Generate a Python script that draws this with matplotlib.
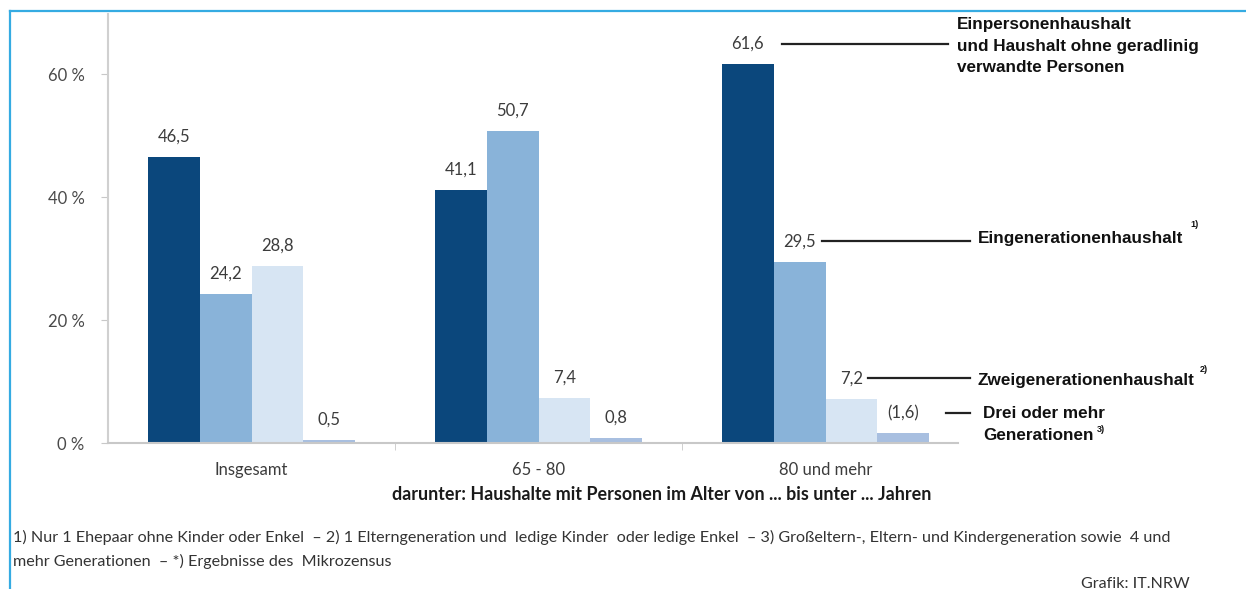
import matplotlib
matplotlib.use("Agg")
import matplotlib.pyplot as plt
from matplotlib.lines import Line2D
import matplotlib.transforms as mtransforms
import numpy as np

# ---- data ----
categories = ["Insgesamt", "65 - 80", "80 und mehr"]
series_names = [
    "Einpersonenhaushalt und Haushalt ohne geradlinig verwandte Personen",
    "Eingenerationenhaushalt",
    "Zweigenerationenhaushalt",
    "Drei oder mehr Generationen",
]
einperson = [46.5, 41.1, 61.6]
eingeneration = [24.2, 50.7, 29.5]
zweigeneration = [28.8, 7.4, 7.2]
drei_mehr = [0.5, 0.8, 1.6]
value_labels = [
    ["46,5", "41,1", "61,6"],
    ["24,2", "50,7", "29,5"],
    ["28,8", "7,4", "7,2"],
    ["0,5", "0,8", "(1,6)"],
]
yticks = [0, 20, 40, 60]
ytick_labels = ["0 %", "20 %", "40 %", "60 %"]
xlabel = "darunter: Haushalte mit Personen im Alter von ... bis unter ... Jahren"
footnote1 = ("1) Nur 1 Ehepaar ohne Kinder oder Enkel  – 2) 1 Elterngeneration und  ledige Kinder  oder ledige Enkel  "
             "– 3) Großeltern-, Eltern- und Kindergeneration sowie  4 und")
footnote2 = "mehr Generationen  – *) Ergebnisse des  Mikrozensus"
source = "Grafik: IT.NRW"

colors = ["#0b477c", "#89b3d9", "#d7e5f3", "#a8bfe0"]
series = [einperson, eingeneration, zweigeneration, drei_mehr]

W, H = 1246, 589
fig = plt.figure(figsize=(W / 100, H / 100), dpi=100)
fig.patch.set_facecolor("white")

def fx(x):
    return x / W

def fy(y):
    return 1 - y / H

# axes in pixel positions
left, right, top, bottom = 108, 969, 14, 443
ax = fig.add_axes([fx(left), fy(bottom), fx(right - left), (bottom - top) / H])

n = len(series)
bw = 0.181
x = np.arange(len(categories))
label_off = 3.3
for i, (vals, col) in enumerate(zip(series, colors)):
    pos = x + (i - (n - 1) / 2) * bw
    ax.bar(pos, vals, width=bw, color=col, edgecolor="none", zorder=2)
    for p, v, t in zip(pos, vals, value_labels[i]):
        ax.text(p, v + label_off, t, ha="center", va="center", fontsize=12,
                family=["Lato", "DejaVu Sans"], color="#3c3c3c")

ax.set_xlim(-0.5, 2.5)
ax.set_ylim(0, 69.8)
ax.set_yticks(yticks)
ax.set_yticklabels(ytick_labels, fontsize=12, family=["Lato", "DejaVu Sans"], color="#4a4a4a")
ax.set_xticks(x)
ax.set_xticklabels(categories, fontsize=12, family=["Lato", "DejaVu Sans"], color="#3c3c3c")
ax.tick_params(axis="x", length=0, pad=14)
ax.set_xticks([0.5, 1.5], minor=True)
ax.tick_params(axis="x", which="minor", length=5, color="#c8c8c8", direction="out")
ax.tick_params(axis="y", length=5, color="#c8c8c8", pad=12)
for s in ["top", "right"]:
    ax.spines[s].set_visible(False)
ax.spines["left"].set_color("#d0d0d0")
ax.spines["left"].set_linewidth(1.5)
ax.spines["bottom"].set_color("#c8c8c8")
ax.spines["bottom"].set_linewidth(1.5)
ax.spines["bottom"].set_bounds(-0.5, 2.46)

fig.text(fx(662), fy(495), xlabel, ha="center", va="center", fontsize=12.9,
         fontweight="bold", family=["Lato", "DejaVu Sans"], color="#1a1a1a")

# annotation lines (x in figure px, y in data)
trans = mtransforms.blended_transform_factory(fig.transFigure, ax.transData)
line_specs = [(782, 948, einperson[2]), (822, 970, eingeneration[2]),
              (868, 970, zweigeneration[2]), (946, 970, drei_mehr[2])]
for x0, x1, v in line_specs:
    fig.add_artist(Line2D([fx(x0), fx(x1)], [v + label_off, v + label_off],
                          transform=trans, color="#222222", lw=1.6))

afont = dict(family=["Liberation Sans", "DejaVu Sans"], fontweight="bold",
             fontsize=12.3, color="#111111")
fig.text(fx(957), fy(24), "Einpersonenhaushalt", va="center", ha="left", **afont)
fig.text(fx(957), fy(46), "und Haushalt ohne geradlinig", va="center", ha="left", **afont)
fig.text(fx(957), fy(67), "verwandte Personen", va="center", ha="left", **afont)
fig.text(fx(978), fy(239), "Eingenerationenhaushalt", va="center", ha="left", **afont)
fig.text(fx(977), fy(380), "Zweigenerationenhaushalt", va="center", ha="left", **afont)
fig.text(fx(983), fy(414), "Drei oder mehr", va="center", ha="left", **afont)
fig.text(fx(983), fy(436), "Generationen", va="center", ha="left", **afont)
sfont = dict(family=["Liberation Sans", "DejaVu Sans"], fontweight="bold",
             fontsize=6.5, color="#111111")
fig.text(fx(1190), fy(225), "1)", va="center", ha="left", **sfont)
fig.text(fx(1200), fy(370), "2)", va="center", ha="left", **sfont)
fig.text(fx(1097), fy(430), "3)", va="center", ha="left", **sfont)

ffont = dict(family=["Lato", "DejaVu Sans"], fontsize=11.6, color="#333333")
fig.text(fx(13), fy(537), footnote1, va="center", ha="left", **ffont)
fig.text(fx(13), fy(561), footnote2, va="center", ha="left", **ffont)
fig.text(fx(1190), fy(584), source, va="center", ha="right", **ffont)

# frame lines
fig.add_artist(Line2D([fx(10), 1], [fy(11), fy(11)], transform=fig.transFigure,
                      color="#35abe2", lw=1.6))
fig.add_artist(Line2D([fx(10), fx(10)], [fy(11), 0], transform=fig.transFigure,
                      color="#35abe2", lw=1.6))

fig.savefig("out.png", dpi=100)
